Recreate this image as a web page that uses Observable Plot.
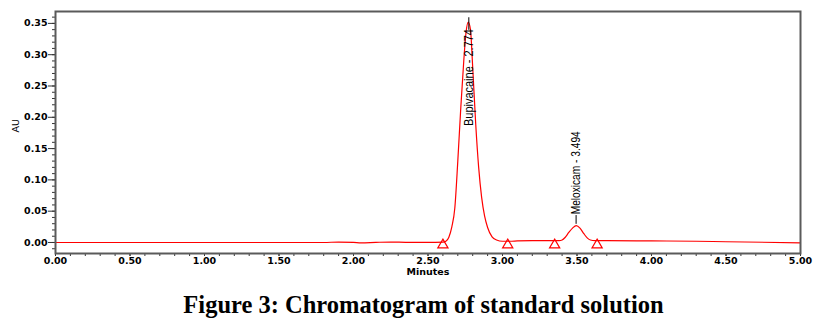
<!DOCTYPE html>
<html>
<head>
<meta charset="utf-8">
<script src="https://cdn.jsdelivr.net/npm/d3@7"></script>
<script src="https://cdn.jsdelivr.net/npm/@observablehq/plot@0.6"></script>
<style>
  html, body { margin: 0; padding: 0; background: #fff; }
  #chart svg { display: block; }
  #caption { width: 817px; box-sizing: border-box; padding-left: 30px; text-align: center;
    font-family: "Liberation Serif", "Times New Roman", serif; font-weight: bold; font-size: 24.5px;
    line-height: 40px; color: #000; }
</style>
</head>
<body>
<div id="chart"></div>
<div id="caption">Figure 3: Chromatogram of standard solution</div>
<script>
// Chromatogram trace (minutes, AU)
const time = [0.00, 0.50, 1.00, 1.50, 1.80, 1.90, 2.00, 2.05, 2.15, 2.25, 2.35, 2.45, 2.55, 2.60, 2.62, 2.64, 2.66, 2.68, 2.70, 2.72, 2.74, 2.755, 2.77, 2.785, 2.80, 2.82, 2.84, 2.86, 2.88, 2.90, 2.93, 2.96, 3.00, 3.05, 3.10, 3.20, 3.30, 3.38, 3.40, 3.42, 3.445, 3.47, 3.495, 3.52, 3.546, 3.57, 3.59, 3.62, 3.70, 4.00, 4.30, 4.50, 5.00];
const au   = [0.000, 0.000, 0.000, 0.000, 0.000, 0.0007, 0.0003, -0.0005, 0.0002, 0.0007, 0.0003, 0.0002, 0.0003, 0.0006, 0.002, 0.0085, 0.025, 0.055, 0.130, 0.215, 0.290, 0.335, 0.352, 0.340, 0.280, 0.190, 0.120, 0.072, 0.042, 0.024, 0.009, 0.004, 0.002, 0.002, 0.0025, 0.003, 0.003, 0.003, 0.004, 0.008, 0.016, 0.023, 0.027, 0.023, 0.014, 0.007, 0.004, 0.003, 0.003, 0.0025, 0.002, 0.0012, -0.0005];

// Peak integration markers (triangles)
const markerTime = [2.60, 3.035, 3.35, 3.635];
const markerAU   = [-0.004, -0.004, -0.004, -0.004];

// Peak labels
const peakName   = ["Bupivacaine", "Meloxicam"];
const peakRT     = [2.774, 3.494];
const peakHeight = [0.352, 0.027];

// Axis ticks
const xMajor = [0, 0.5, 1, 1.5, 2, 2.5, 3, 3.5, 4, 4.5, 5];
const xTickLabels = ["0.00","0.50","1.00","1.50","2.00","2.50","3.00","3.50","4.00","4.50","5.00"];
const yMajor = [0, 0.05, 0.10, 0.15, 0.20, 0.25, 0.30, 0.35];
const yTickLabels = ["0.00","0.05","0.10","0.15","0.20","0.25","0.30","0.35"];

const chrom = time.map((t, i) => ({t, au: au[i]}));
const markers = markerTime.map((t, i) => ({t, au: markerAU[i]}));
const peaks = peakName.map((name, i) => ({name, rt: peakRT[i], h: peakHeight[i]}));
const tall = peaks.filter(p => p.h > 0.2);
const small = peaks.filter(p => p.h <= 0.2);
const peakLabel = d => `${d.name} - ${d.rt.toFixed(3)}`;

const xMinor = d3.range(0, 51).map(i => i / 10);
const yMinor = d3.range(-1, 37).map(i => i / 100);

const labelFont = {fontFamily: "'Liberation Sans', Arial, sans-serif", fontSize: 12.5, fill: "#000"};

const chart = Plot.plot({
  width: 817,
  height: 285,
  marginLeft: 55,
  marginRight: 17,
  marginTop: 11,
  marginBottom: 32,
  x: {domain: [0, 5]},
  y: {domain: [-0.0176, 0.369]},
  style: {fontFamily: "'DejaVu Sans', sans-serif", fontSize: "9px", color: "#000", background: "#fff"},
  marks: [
    Plot.axisY(yMinor, {tickSize: 3, tickFormat: () => "", stroke: "#333", label: null}),
    Plot.axisY(yMajor, {tickSize: 7, tickPadding: 1, stroke: "#333", fontWeight: "bold", fontSize: 9.5,
      tickFormat: d => yTickLabels[yMajor.indexOf(d)], label: null}),
    Plot.axisX(xMinor, {tickSize: 3, tickFormat: () => "", stroke: "#333", label: null}),
    Plot.axisX(xMajor, {tickSize: 3, tickPadding: 1, stroke: "#333", fontWeight: "bold", fontSize: 9.5,
      tickFormat: d => xTickLabels[xMajor.indexOf(d)], label: null}),
    Plot.text(["Minutes"], {frameAnchor: "bottom", dy: 21, fontWeight: "bold", fontSize: 9.5, fill: "#000"}),
    Plot.text(["AU"], {frameAnchor: "left", dx: -40, rotate: -90, fontSize: 9.5, fill: "#000"}),
    Plot.line(chrom, {x: "t", y: "au", stroke: "#ff0000", strokeWidth: 1.2, curve: "monotone-x"}),
    Plot.dot(markers, {x: "t", y: "au", symbol: "triangle", r: 3.8, stroke: "#ff0000", fill: "none", strokeWidth: 1.2}),
    // leader lines
    Plot.ruleX(tall, {x: "rt", y1: d => d.h - 0.013, y2: d => d.h + 0.007, stroke: "#000", strokeWidth: 1}),
    Plot.ruleX(small, {x: "rt", y1: d => d.h + 0.002, y2: d => d.h + 0.016, stroke: "#000", strokeWidth: 1}),
    Plot.text(tall, {x: "rt", y: d => d.h - 0.011, text: peakLabel, rotate: -90, textAnchor: "end", ...labelFont}),
    Plot.text(small, {x: "rt", y: d => d.h + 0.018, text: peakLabel, rotate: -90, textAnchor: "start", ...labelFont}),
    Plot.frame({stroke: "#5a5a5a", strokeWidth: 2})
  ]
});
// condense peak labels to the narrow look of the original
const labelLengths = {"Bupivacaine": 97, "Meloxicam": 83};
d3.select(chart).selectAll("text").each(function () {
  const s = this.textContent;
  for (const k of Object.keys(labelLengths)) {
    if (s.startsWith(k + " - ")) {
      this.setAttribute("textLength", labelLengths[k]);
      this.setAttribute("lengthAdjust", "spacingAndGlyphs");
    }
  }
});
document.getElementById("chart").appendChild(chart);
</script>
</body>
</html>
